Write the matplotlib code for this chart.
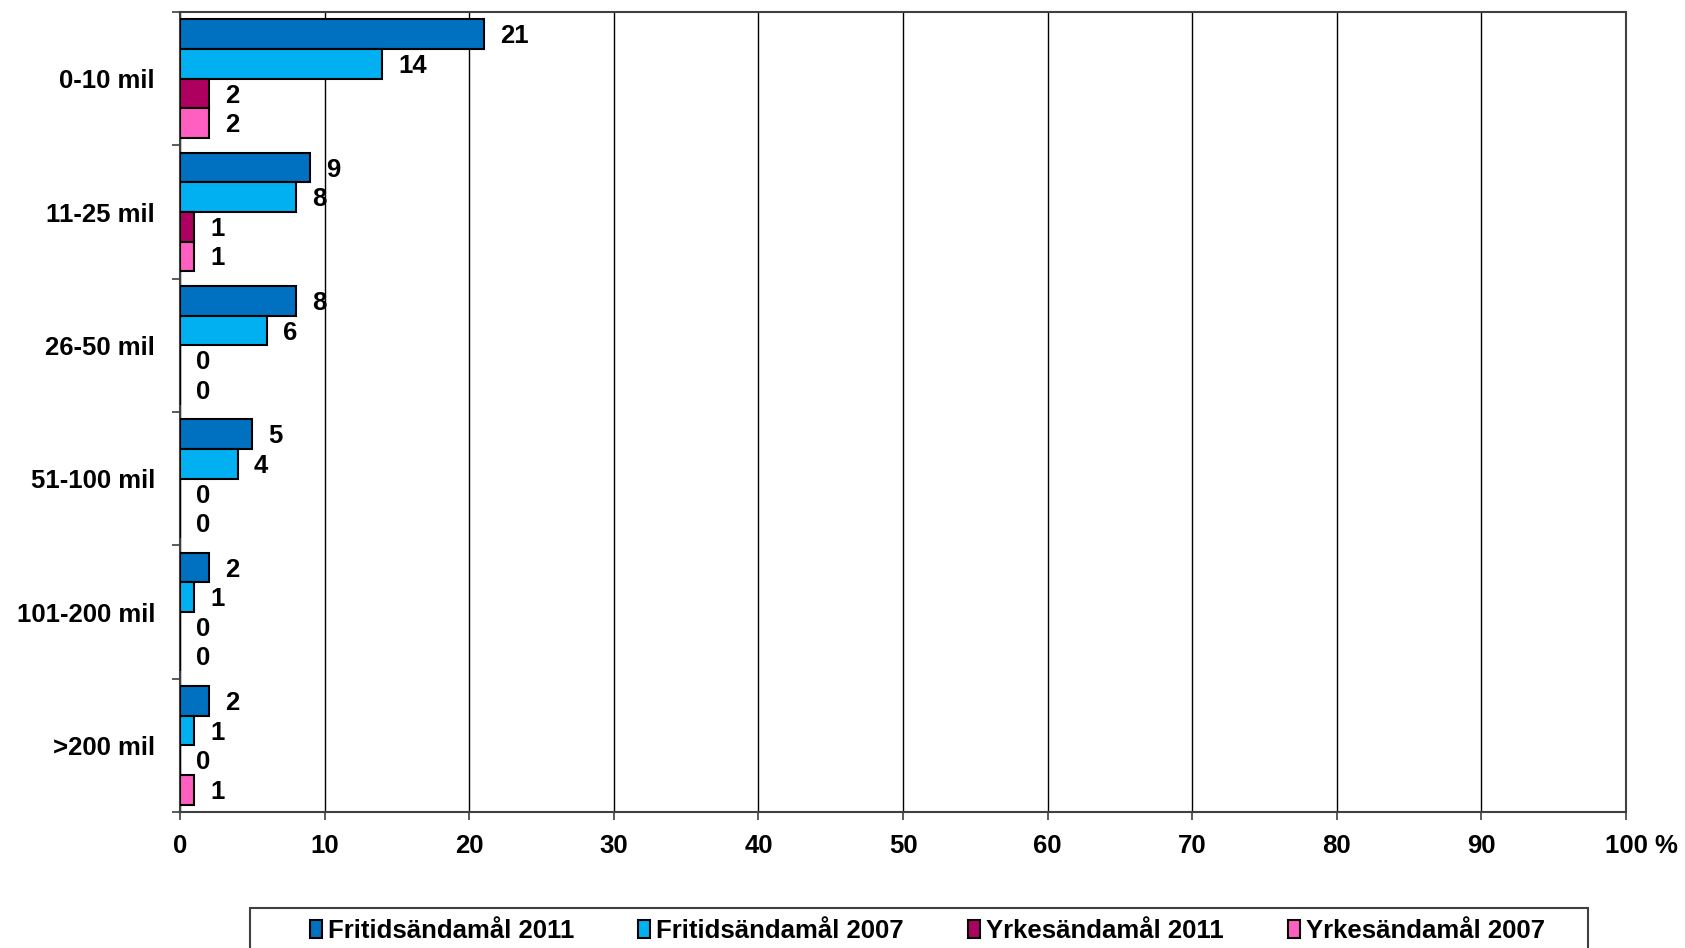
import matplotlib
matplotlib.use("Agg")
import matplotlib.pyplot as plt
import matplotlib.patches as mpatches
import matplotlib.transforms as mtransforms
import numpy as np
from matplotlib.ticker import FixedLocator

plt.rcParams['font.family'] = ['Liberation Sans', 'DejaVu Sans']
plt.rcParams['font.weight'] = 'bold'

categories = ["0-10 mil", "11-25 mil", "26-50 mil", "51-100 mil", "101-200 mil", ">200 mil"]
series_names = ["Fritidsändamål 2011", "Fritidsändamål 2007", "Yrkesändamål 2011", "Yrkesändamål 2007"]
fritid_2011 = [21, 9, 8, 5, 2, 2]
fritid_2007 = [14, 8, 6, 4, 1, 1]
yrkes_2011 = [2, 1, 0, 0, 0, 0]
yrkes_2007 = [2, 1, 0, 0, 0, 1]
colors = ["#0070C0", "#00B0F0", "#AE0060", "#FF5FC0"]
x_ticks = [0, 10, 20, 30, 40, 50, 60, 70, 80, 90, 100]
x_labels = ["0", "10", "20", "30", "40", "50", "60", "70", "80", "90", "100 %"]

series = [fritid_2011, fritid_2007, yrkes_2011, yrkes_2007]

W, H = 1685, 948
fig = plt.figure(figsize=(W / 100, H / 100), dpi=100)
ax = fig.add_axes([180 / W, 1 - 812 / H, (1626 - 180) / W, (812 - 12) / H])

fs = 18.5
n = len(categories)
bar_h = 0.222
y = np.arange(n)
for i, (vals, c, name) in enumerate(zip(series, colors, series_names)):
    pos = y - 1.5 * bar_h + i * bar_h
    bars = ax.barh(pos, vals, height=bar_h, color=c, edgecolor="black",
                   linewidth=1.5, label=name, zorder=3)
    for b, v in zip(bars, vals):
        ax.annotate(str(v), xy=(v, b.get_y() + b.get_height() / 2),
                    xytext=(11.5, -1.5), textcoords="offset points",
                    ha="left", va="center", fontsize=fs, fontweight="bold")

ax.set_xlim(0, 100)
ax.set_ylim(n - 0.5, -0.5)
ax.set_xticks(x_ticks)
ax.set_xticklabels(x_labels, fontsize=fs, fontweight="bold")
ax.set_yticks(y)
ax.set_yticklabels(categories, fontsize=fs, fontweight="bold")
ax.yaxis.set_minor_locator(FixedLocator(np.arange(-0.5, n, 1.0)))
ax.tick_params(axis="y", which="major", length=0, pad=18)
ax.tick_params(axis="y", which="minor", length=6, width=1.2, color="#404040", direction="out")
ax.tick_params(axis="x", which="major", length=6, width=1.2, color="#404040", direction="out", pad=10)

# keep the number "100" centred on its tick, with "%" trailing to the right
last = ax.get_xticklabels()[-1]
last.set_horizontalalignment("left")
last.set_transform(last.get_transform() +
                   mtransforms.ScaledTranslation(-15.4 / 72, 0, fig.dpi_scale_trans))

ax.xaxis.grid(True, color="black", linewidth=1.0, zorder=0)
ax.set_axisbelow(True)
for s in ["left", "bottom", "top", "right"]:
    ax.spines[s].set_color("#404040")
    ax.spines[s].set_linewidth(1.5)

# legend frame (extends past the bottom edge, as in the reference)
frame = mpatches.Rectangle((250 / W, -0.05), (1588 - 250) / W, (1 - 908 / H) + 0.05,
                           transform=fig.transFigure, fill=False, edgecolor="#404040",
                           linewidth=1.5, zorder=5)
fig.patches.append(frame)

leg = fig.legend(loc="center left", bbox_to_anchor=(310 / W, 1 - 931 / H, (1545 - 310) / W, 0),
                 mode="expand", ncol=4, fontsize=fs, frameon=False,
                 handlelength=0.45, handleheight=0.75, handletextpad=0.25,
                 borderpad=0, borderaxespad=0)
for t in leg.get_texts():
    t.set_fontweight("bold")

fig.savefig("out.png", dpi=100)
